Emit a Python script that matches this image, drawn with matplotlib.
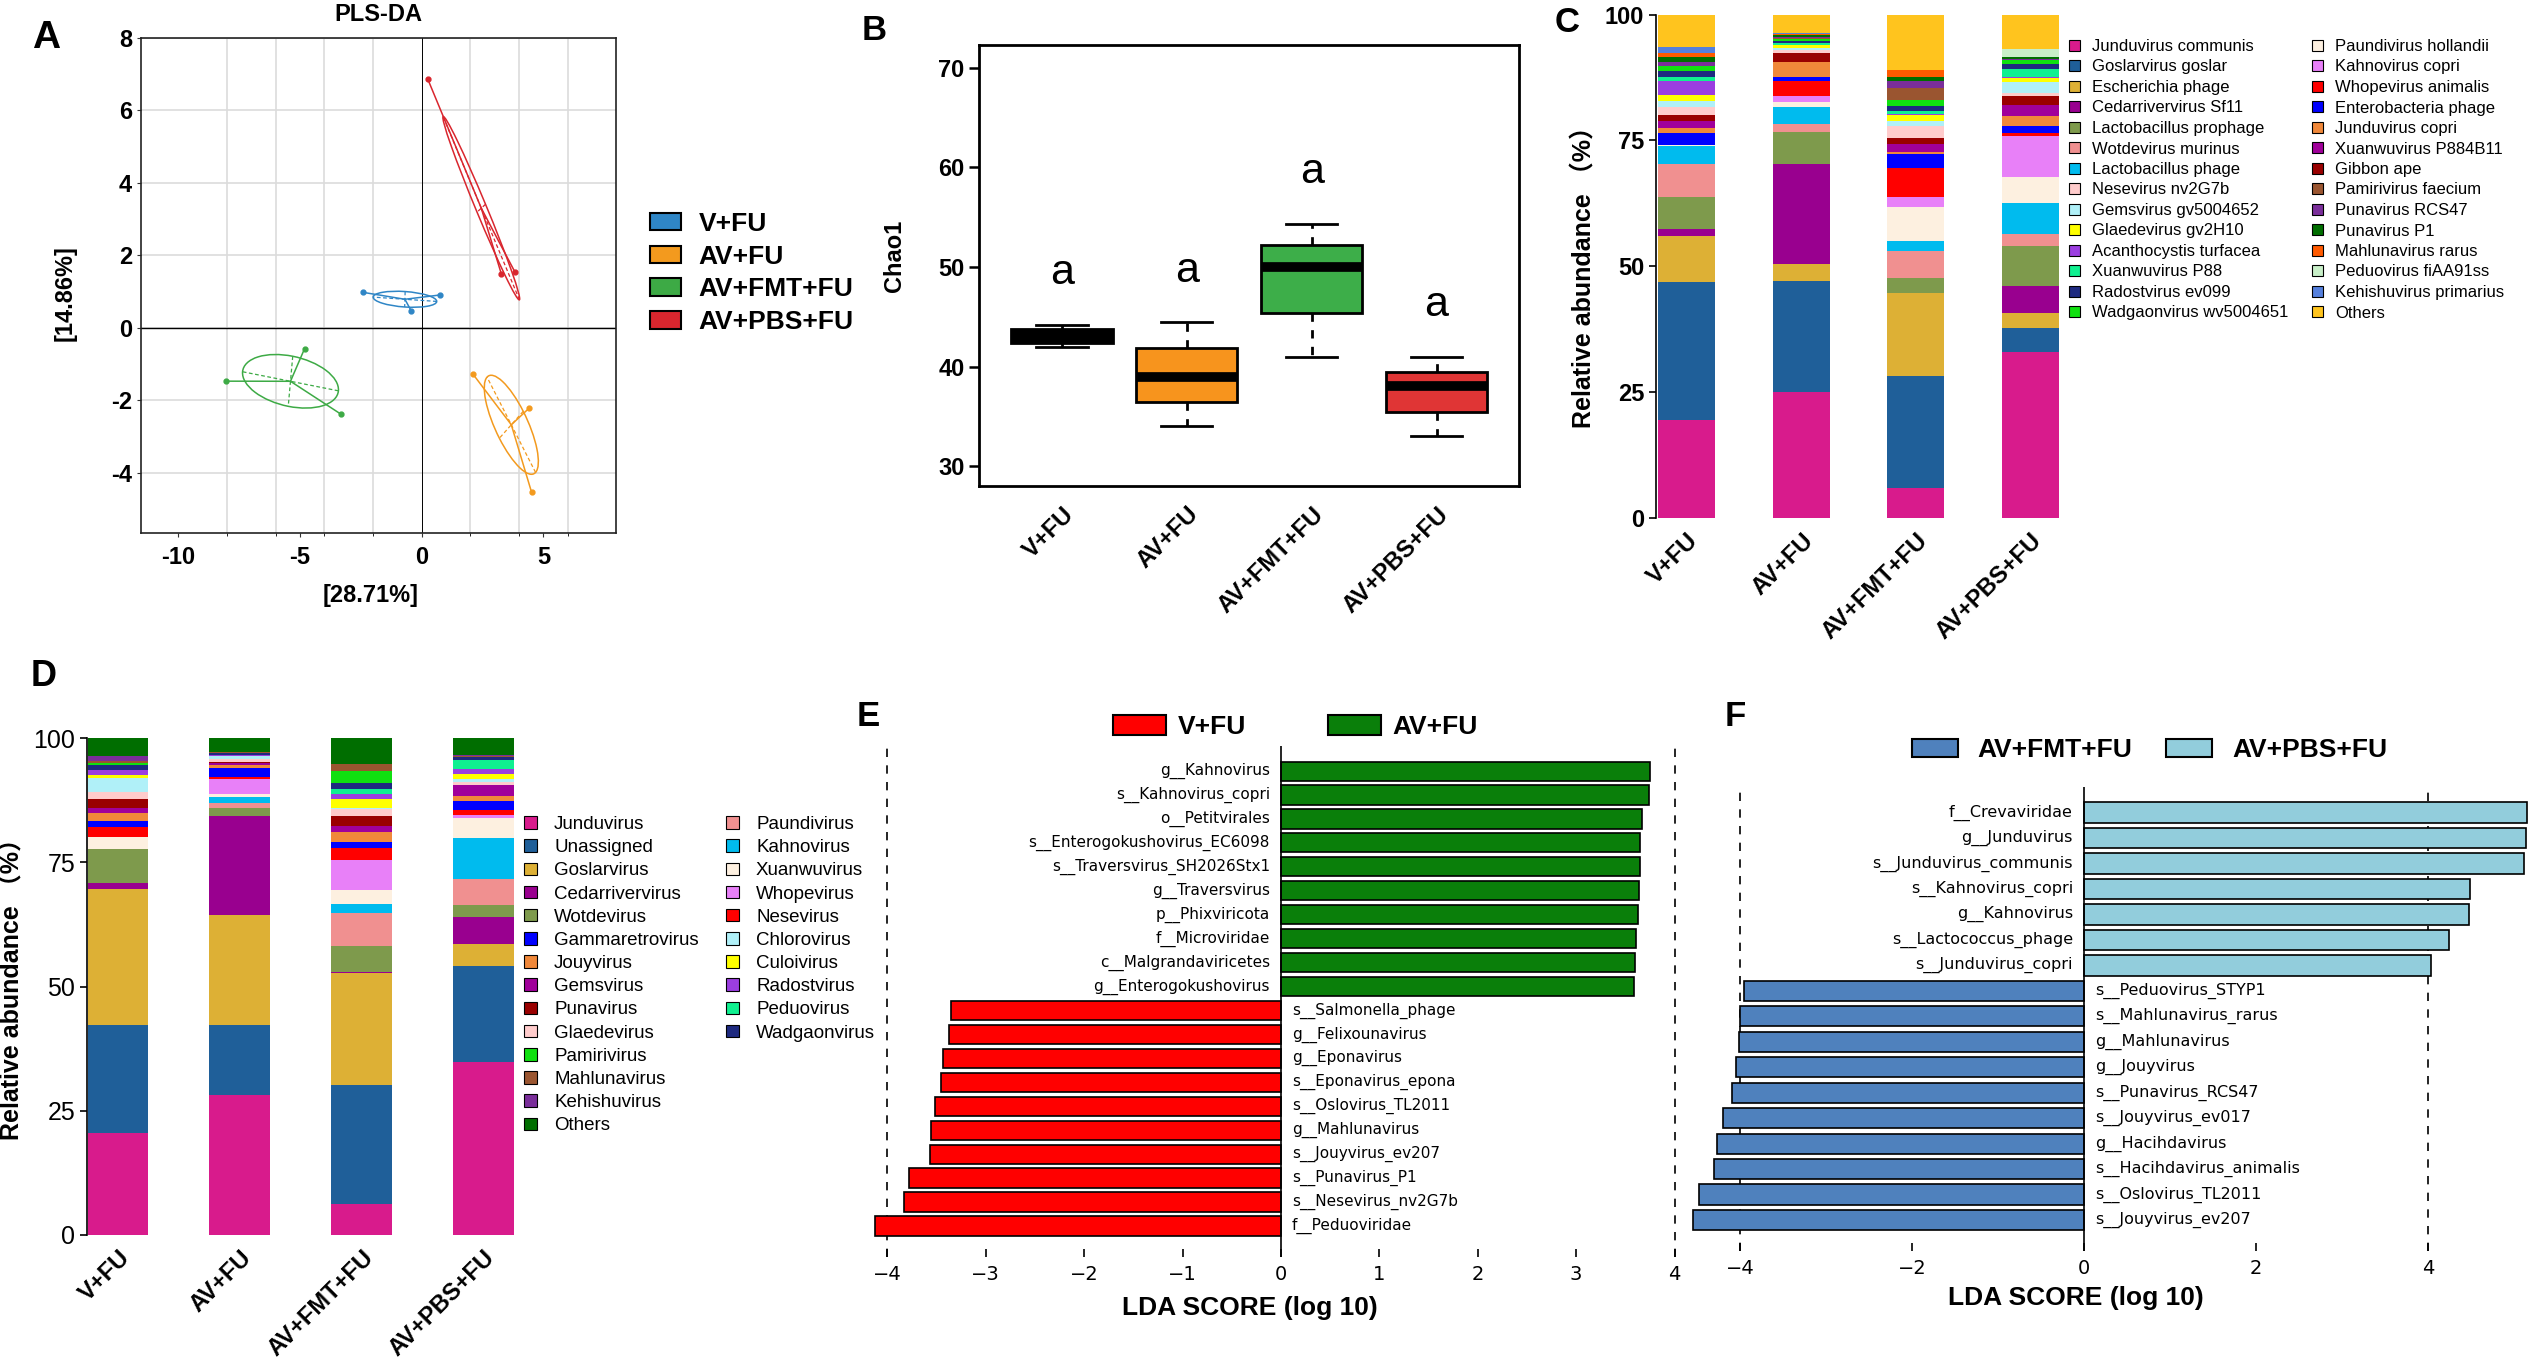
import numpy as np
import matplotlib
matplotlib.use("Agg")
import matplotlib.pyplot as plt
from matplotlib.patches import Patch, Ellipse

W, H = 2533, 1364
plt.rcParams['font.family'] = ['Liberation Sans', 'DejaVu Sans']
plt.rcParams['font.size'] = 14

def fx(px):
    return px / W

def fy(py):
    return 1 - py / H

# ---------------- data ----------------
groups = ["V+FU", "AV+FU", "AV+FMT+FU", "AV+PBS+FU"]

# Panel A: PLS-DA scores (3 samples per group)
pls_comp1 = [[-2.40, 0.77, -0.44], [2.11, 4.42, 4.51], [-8.04, -4.81, -3.32], [0.24, 3.27, 3.83]]
pls_comp2 = [[0.98, 0.91, 0.48], [-1.28, -2.21, -4.53], [-1.47, -0.57, -2.38], [6.88, 1.49, 1.54]]
pls_xlabel = "[28.71%]"
pls_ylabel = "[14.86%]"

# Panel B: Chao1 boxplot statistics
chao1_whislo = [41.95, 34.0, 41.0, 33.0]
chao1_q1 = [42.4, 36.4, 45.4, 35.4]
chao1_med = [43.0, 38.95, 50.0, 38.0]
chao1_q3 = [43.75, 41.85, 52.2, 39.5]
chao1_whishi = [44.15, 44.5, 54.3, 41.0]
chao1_letters = ["a", "a", "a", "a"]
chao1_letter_y = [48.3, 48.5, 58.4, 45.1]

# Panel C: species relative abundance (stack order bottom -> top)
c_species = ["Junduvirus communis", "Goslarvirus goslar", "Escherichia phage", "Cedarrivervirus Sf11",
             "Lactobacillus prophage", "Wotdevirus murinus", "Lactobacillus phage", "Paundivirus hollandii",
             "Kahnovirus copri", "Whopevirus animalis", "Enterobacteria phage", "Junduvirus copri",
             "Xuanwuvirus P884B11", "Gibbon ape", "Nesevirus nv2G7b", "Gemsvirus gv5004652",
             "Glaedevirus gv2H10", "Acanthocystis turfacea", "Xuanwuvirus P88", "Radostvirus ev099",
             "Wadgaonvirus wv5004651", "Pamirivirus faecium", "Punavirus RCS47", "Punavirus P1",
             "Mahlunavirus rarus", "Peduovirus fiAA91ss", "Kehishuvirus primarius", "Others"]
c_vfu = [19.45, 27.45, 9.2, 1.2, 6.4, 6.6, 3.5, 0.2, 0, 0, 2.4, 1.0, 1.5, 1.1, 1.7, 1.1, 1.2, 2.8,
         0.8, 1.2, 0.9, 0, 0.9, 1.0, 0.7, 0, 1.25, 6.35]
c_avfu = [25.1, 22.0, 3.3, 20.0, 6.3, 1.6, 3.3, 1.0, 1.2, 2.9, 0.8, 3.1, 0, 1.8, 0.5, 0.5, 0.5, 0.1,
          0.4, 0.4, 0.4, 0.1, 0.3, 0.4, 0.1, 0.1, 0.1, 3.8]
c_fmt = [5.9, 22.3, 16.4, 0.0, 3.1, 5.4, 2.0, 6.7, 1.9, 5.9, 2.6, 0.4, 1.7, 1.2, 2.3, 1.0, 1.2, 0.3,
         0.6, 1.0, 1.2, 2.3, 1.4, 0.8, 1.4, 0, 0, 11.0]
c_pbs = [32.9, 4.8, 3.05, 5.25, 8.1, 2.3, 6.1, 5.3, 8.1, 0.5, 1.5, 2.0, 2.1, 1.8, 0.7, 2.0, 0.8, 0.3,
         1.65, 0.85, 0.8, 0.1, 0.1, 0.4, 0, 1.7, 0, 6.9]
c_legend_col1 = ["Junduvirus communis", "Goslarvirus goslar", "Escherichia phage", "Cedarrivervirus Sf11",
                 "Lactobacillus prophage", "Wotdevirus murinus", "Lactobacillus phage", "Nesevirus nv2G7b",
                 "Gemsvirus gv5004652", "Glaedevirus gv2H10", "Acanthocystis turfacea", "Xuanwuvirus P88",
                 "Radostvirus ev099", "Wadgaonvirus wv5004651"]
c_legend_col2 = ["Paundivirus hollandii", "Kahnovirus copri", "Whopevirus animalis", "Enterobacteria phage",
                 "Junduvirus copri", "Xuanwuvirus P884B11", "Gibbon ape", "Pamirivirus faecium",
                 "Punavirus RCS47", "Punavirus P1", "Mahlunavirus rarus", "Peduovirus fiAA91ss",
                 "Kehishuvirus primarius", "Others"]

# Panel D: genus relative abundance (stack order bottom -> top)
d_genera = ["Junduvirus", "Unassigned", "Goslarvirus", "Cedarrivervirus", "Wotdevirus", "Paundivirus",
            "Kahnovirus", "Xuanwuvirus", "Whopevirus", "Nesevirus", "Gammaretrovirus", "Jouyvirus",
            "Gemsvirus", "Punavirus", "Glaedevirus", "Chlorovirus", "Culoivirus", "Radostvirus",
            "Peduovirus", "Wadgaonvirus", "Pamirivirus", "Mahlunavirus", "Kehishuvirus", "Others"]
d_vfu = [20.6, 21.6, 27.4, 1.2, 6.8, 0, 0, 2.4, 0, 2.1, 1.2, 1.6, 1.1, 1.8, 1.4, 2.7, 0.6, 1.1, 0, 0.9,
         0.4, 0.4, 1.1, 3.5]
d_avfu = [28.2, 14.0, 22.2, 20.0, 1.6, 0.9, 1.3, 0.6, 2.9, 0.4, 1.8, 0.6, 0.4, 0.3, 0.5, 0.6, 0.1, 0.1,
          0.1, 0.4, 0, 0.1, 0.1, 2.9]
d_fmt = [6.2, 24.0, 22.6, 0.1, 5.3, 6.5, 2.0, 2.7, 6.0, 2.4, 1.3, 2.0, 1.1, 2.2, 1.3, 0.2, 1.8, 1.0, 1.1,
         1.2, 2.4, 1.3, 0.1, 5.2]
d_pbs = [34.8, 19.3, 4.5, 5.4, 2.3, 5.4, 8.1, 4.2, 0.5, 1.0, 1.9, 1.0, 2.1, 0.1, 0.6, 0.5, 1.1, 1.0, 1.8,
         0.5, 0.1, 0.1, 0.3, 3.4]
d_legend_col1 = ["Junduvirus", "Unassigned", "Goslarvirus", "Cedarrivervirus", "Wotdevirus", "Gammaretrovirus",
                 "Jouyvirus", "Gemsvirus", "Punavirus", "Glaedevirus", "Pamirivirus", "Mahlunavirus",
                 "Kehishuvirus", "Others"]
d_legend_col2 = ["Paundivirus", "Kahnovirus", "Xuanwuvirus", "Whopevirus", "Nesevirus", "Chlorovirus",
                 "Culoivirus", "Radostvirus", "Peduovirus", "Wadgaonvirus"]

# Panel E: LEfSe V+FU vs AV+FU
e_taxa = ["g__Kahnovirus", "s__Kahnovirus_copri", "o__Petitvirales", "s__Enterogokushovirus_EC6098",
          "s__Traversvirus_SH2026Stx1", "g__Traversvirus", "p__Phixviricota", "f__Microviridae",
          "c__Malgrandaviricetes", "g__Enterogokushovirus", "s__Salmonella_phage", "g__Felixounavirus",
          "g__Eponavirus", "s__Eponavirus_epona", "s__Oslovirus_TL2011", "g__Mahlunavirus",
          "s__Jouyvirus_ev207", "s__Punavirus_P1", "s__Nesevirus_nv2G7b", "f__Peduoviridae"]
e_lda = [3.75, 3.735, 3.67, 3.65, 3.647, 3.636, 3.63, 3.61, 3.60, 3.59,
         -3.35, -3.37, -3.43, -3.45, -3.52, -3.56, -3.57, -3.78, -3.83, -4.13]

# Panel F: LEfSe AV+FMT+FU vs AV+PBS+FU
f_taxa = ["f__Crevaviridae", "g__Junduvirus", "s__Junduvirus_communis", "s__Kahnovirus_copri", "g__Kahnovirus",
          "s__Lactococcus_phage", "s__Junduvirus_copri", "s__Peduovirus_STYP1", "s__Mahlunavirus_rarus",
          "g__Mahlunavirus", "g__Jouyvirus", "s__Punavirus_RCS47", "s__Jouyvirus_ev017", "g__Hacihdavirus",
          "s__Hacihdavirus_animalis", "s__Oslovirus_TL2011", "s__Jouyvirus_ev207"]
f_lda = [5.15, 5.14, 5.12, 4.49, 4.48, 4.25, 4.03,
         -3.95, -4.00, -4.01, -4.05, -4.09, -4.20, -4.27, -4.30, -4.48, -4.55]

# ---------------- styles ----------------
pls_colors = ["#2F86C6", "#F39A1E", "#3DAA45", "#D9262E"]
box_colors = ["#000000", "#F7941D", "#3DAE49", "#E03535"]
c_colors = {
    "Junduvirus communis": "#D81B8C", "Goslarvirus goslar": "#1F5F99", "Escherichia phage": "#DDB035",
    "Cedarrivervirus Sf11": "#99008F", "Lactobacillus prophage": "#7E9A4C", "Wotdevirus murinus": "#F09090",
    "Lactobacillus phage": "#00BBEE", "Nesevirus nv2G7b": "#FFCCCC", "Gemsvirus gv5004652": "#B0F0F8",
    "Glaedevirus gv2H10": "#FFFF00", "Acanthocystis turfacea": "#9B3EE0", "Xuanwuvirus P88": "#10F090",
    "Radostvirus ev099": "#1E2A80", "Wadgaonvirus wv5004651": "#10E010", "Paundivirus hollandii": "#FDF0E0",
    "Kahnovirus copri": "#E880F8", "Whopevirus animalis": "#FF0000", "Enterobacteria phage": "#0000FF",
    "Junduvirus copri": "#F0883A", "Xuanwuvirus P884B11": "#A0009A", "Gibbon ape": "#990000",
    "Pamirivirus faecium": "#9A5530", "Punavirus RCS47": "#7A2E9A", "Punavirus P1": "#006E00",
    "Mahlunavirus rarus": "#FF5A00", "Peduovirus fiAA91ss": "#C8EFC8", "Kehishuvirus primarius": "#5580DD",
    "Others": "#FFC41E"}
d_colors = {
    "Junduvirus": "#D81B8C", "Unassigned": "#1F5F99", "Goslarvirus": "#DDB035", "Cedarrivervirus": "#99008F",
    "Wotdevirus": "#7E9A4C", "Gammaretrovirus": "#0000FF", "Jouyvirus": "#F0883A", "Gemsvirus": "#A0009A",
    "Punavirus": "#990000", "Glaedevirus": "#FFCCCC", "Pamirivirus": "#10E010", "Mahlunavirus": "#9A5530",
    "Kehishuvirus": "#7A2E9A", "Others": "#006E00", "Paundivirus": "#F09090", "Kahnovirus": "#00BBEE",
    "Xuanwuvirus": "#FDF0E0", "Whopevirus": "#E880F8", "Nesevirus": "#FF0000", "Chlorovirus": "#B0F0F8",
    "Culoivirus": "#FFFF00", "Radostvirus": "#9B3EE0", "Peduovirus": "#10F090", "Wadgaonvirus": "#1E2A80"}

fig = plt.figure(figsize=(W / 100, H / 100), dpi=100)

# ---------------- Panel A ----------------
axA = fig.add_axes([fx(141), fy(533), fx(616) - fx(141), fy(38) - fy(533)])
axA.set_xlim(-11.53, 7.98)
axA.set_ylim(-5.66, 8.0)
axA.set_xticks(np.arange(-10, 8, 2), minor=True)
axA.grid(which='minor', axis='x', color='#DCDCDC', lw=1.2)
axA.grid(which='major', axis='y', color='#DCDCDC', lw=1.2)
axA.set_axisbelow(True)
axA.axhline(0, color='black', lw=1.0, zorder=1)
axA.axvline(0, color='black', lw=0.7, zorder=1)
for gx, gy, col in zip(pls_comp1, pls_comp2, pls_colors):
    pts = np.column_stack([gx, gy])
    mu = pts.mean(axis=0)
    cov = np.cov(pts.T, bias=True)
    vals, vecs = np.linalg.eigh(cov)
    sd = np.sqrt(np.maximum(vals, 0))
    ang = np.degrees(np.arctan2(vecs[1, 1], vecs[0, 1]))
    axA.add_patch(Ellipse(mu, 2 * sd[1], 2 * sd[0], angle=ang, fill=False, ec=col, lw=1.1, zorder=3))
    for k in range(2):
        v = vecs[:, k] * sd[k]
        axA.plot([mu[0] - v[0], mu[0] + v[0]], [mu[1] - v[1], mu[1] + v[1]], color=col, lw=0.9,
                 ls=(0, (3, 2)), zorder=3)
    for px_, py_ in pts:
        axA.plot([mu[0], px_], [mu[1], py_], color=col, lw=1.1, zorder=3)
    axA.plot(gx, gy, 'o', color=col, ms=3.5, zorder=4)
axA.set_xticks([-10, -5, 0, 5], labels=["-10", "-5", "0", "5"], fontsize=17, fontweight='bold')
axA.set_yticks([-4, -2, 0, 2, 4, 6, 8], labels=["-4", "-2", "0", "2", "4", "6", "8"], fontsize=17,
               fontweight='bold')
axA.tick_params(axis='both', length=3, width=0.8, colors='#333333', labelcolor='black')
axA.tick_params(axis='x', pad=6)
for s in axA.spines.values():
    s.set_linewidth(1.2)
    s.set_color('#222222')
axA.set_title("PLS-DA", fontsize=17, fontweight='bold', pad=12)
axA.set_xlabel(pls_xlabel, fontsize=17, fontweight='bold')
axA.xaxis.set_label_coords(0.484, -0.103)
axA.set_ylabel(pls_ylabel, fontsize=17, fontweight='bold')
axA.yaxis.set_label_coords(-0.135, 0.485)

legA = [Patch(facecolor=c, edgecolor='black', linewidth=1.5, label=g) for g, c in zip(groups, pls_colors)]
fig.legend(handles=legA, loc='center left', bbox_to_anchor=(fx(650), fy(273)), frameon=False,
           prop={'weight': 'bold', 'size': 19}, handlelength=1.17, handleheight=0.64, handletextpad=0.68,
           labelspacing=0.33, borderpad=0, borderaxespad=0)

# ---------------- Panel B ----------------
axB = fig.add_axes([fx(979), fy(486), fx(1519) - fx(979), fy(45) - fy(486)])
stats = [dict(med=m, q1=a, q3=b, whislo=lo, whishi=hi, fliers=[])
         for m, a, b, lo, hi in zip(chao1_med, chao1_q1, chao1_q3, chao1_whislo, chao1_whishi)]
bp = axB.bxp(stats, positions=[1, 2, 3, 4], widths=0.81, capwidths=0.41, patch_artist=True, showfliers=False,
             boxprops=dict(edgecolor='black', linewidth=2.0),
             medianprops=dict(color='black', linewidth=7, solid_capstyle='butt'),
             whiskerprops=dict(color='black', linewidth=2.0, linestyle=(0, (3, 3))),
             capprops=dict(color='black', linewidth=2.0))
for patch, col in zip(bp['boxes'], box_colors):
    patch.set_facecolor(col)
for i, (t, yv) in enumerate(zip(chao1_letters, chao1_letter_y)):
    axB.text(i + 1, yv, t, ha='center', va='baseline', fontsize=31)
axB.set_xlim(0.335, 4.66)
axB.set_ylim(28.0, 72.3)
axB.set_yticks([30, 40, 50, 60, 70], labels=["30", "40", "50", "60", "70"], fontsize=17, fontweight='bold')
axB.set_xticks([1, 2, 3, 4], labels=groups, fontsize=17, fontweight='bold', rotation=45, ha='right',
               va='top', rotation_mode='anchor')
axB.tick_params(axis='y', length=7, width=1.8)
axB.tick_params(axis='x', length=0, pad=12)
for s in axB.spines.values():
    s.set_linewidth(2.0)
axB.set_ylabel("Chao1", fontsize=17, fontweight='bold')
axB.yaxis.set_label_coords(-0.1356, 0.522)

# ---------------- Panel C ----------------
axC = fig.add_axes([fx(1656), fy(518), 405 / W, fy(14.5) - fy(518)])
c_matrix = np.array([c_vfu, c_avfu, c_fmt, c_pbs])
xpos = np.arange(len(groups))
bottom = np.zeros(len(groups))
for j, name in enumerate(c_species):
    axC.bar(xpos, c_matrix[:, j], bottom=bottom, width=0.5, color=c_colors[name], edgecolor='none')
    bottom += c_matrix[:, j]
axC.set_xlim(-0.27, 3.27)
axC.set_ylim(0, 100)
for s in ['top', 'right', 'bottom']:
    axC.spines[s].set_visible(False)
axC.spines['left'].set_linewidth(1.2)
axC.set_yticks([0, 25, 50, 75, 100], labels=["0", "25", "50", "75", "100"], fontsize=17, fontweight='bold')
axC.tick_params(axis='y', length=5, width=1.2)
axC.set_xticks(xpos, labels=groups, fontsize=17, fontweight='bold', rotation=45, ha='right', va='top',
               rotation_mode='anchor')
axC.tick_params(axis='x', length=0, pad=8)
axC.set_ylabel("Relative abundance \uff08%\uff09", fontsize=18, fontweight='bold',
               family=['Liberation Sans', 'Noto Sans CJK SC'])
axC.yaxis.set_label_coords(-0.146, 0.49)


def column_legend(names, colors, x_px, y_top_px, fs, hl, hh, tp, ls):
    hs = [Patch(facecolor=colors[n], edgecolor='black', linewidth=0.8, label=n) for n in names]
    fig.legend(handles=hs, loc='upper left', bbox_to_anchor=(fx(x_px), fy(y_top_px)), frameon=False,
               fontsize=fs, handlelength=hl, handleheight=hh, handletextpad=tp, labelspacing=ls,
               borderpad=0, borderaxespad=0)


column_legend(c_legend_col1, c_colors, 2069, 39, 12, 0.65, 0.65, 0.75, 0.33)
column_legend(c_legend_col2, c_colors, 2312, 39, 12, 0.65, 0.65, 0.75, 0.33)

# ---------------- Panel D ----------------
axD = fig.add_axes([fx(87), fy(1235), 428 / W, fy(738) - fy(1235)])
d_matrix = np.array([d_vfu, d_avfu, d_fmt, d_pbs])
bottom = np.zeros(len(groups))
for j, name in enumerate(d_genera):
    axD.bar(xpos, d_matrix[:, j], bottom=bottom, width=0.5, color=d_colors[name], edgecolor='none')
    bottom += d_matrix[:, j]
axD.set_xlim(-0.255, 3.26)
axD.set_ylim(0, 100)
for s in ['top', 'right', 'bottom']:
    axD.spines[s].set_visible(False)
axD.spines['left'].set_linewidth(1.2)
axD.set_yticks([0, 25, 50, 75, 100], labels=["0", "25", "50", "75", "100"], fontsize=18)
axD.tick_params(axis='y', length=5, width=1.2)
axD.set_xticks(xpos, labels=groups, fontsize=17, fontweight='bold', rotation=45, ha='right', va='top',
               rotation_mode='anchor')
axD.tick_params(axis='x', length=0, pad=8)
axD.set_ylabel("Relative abundance \uff08%\uff09", fontsize=18, fontweight='bold',
               family=['Liberation Sans', 'Noto Sans CJK SC'])
axD.yaxis.set_label_coords(-0.145, 0.507)

column_legend(d_legend_col1, d_colors, 524, 816, 13.5, 0.7, 0.65, 0.9, 0.33)
column_legend(d_legend_col2, d_colors, 726, 816, 13.5, 0.7, 0.65, 0.9, 0.33)


# ---------------- LEfSe panels ----------------
def lefse(ax, taxa, lda, pos_col, neg_col, xlim, ylim, xticks, fs_lab):
    n = len(taxa)
    ypos = np.arange(n)[::-1]
    cols = [pos_col if v > 0 else neg_col for v in lda]
    ax.barh(ypos, lda, height=0.8, color=cols, edgecolor='black', linewidth=1.2, zorder=2)
    for yv, t, v in zip(ypos, taxa, lda):
        if v > 0:
            ax.annotate(t, xy=(0, yv), xytext=(-8, 0), textcoords='offset points', ha='right', va='center',
                        fontsize=fs_lab, family='DejaVu Sans')
        else:
            ax.annotate(t, xy=(0, yv), xytext=(8, 0), textcoords='offset points', ha='left', va='center',
                        fontsize=fs_lab, family='DejaVu Sans')
    ax.axvline(0, color='black', lw=1.2, zorder=3)
    ax.axvline(-4, color='black', lw=1.2, ls=(0, (5, 5)), zorder=1)
    ax.axvline(4, color='black', lw=1.2, ls=(0, (5, 5)), zorder=1)
    ax.set_xlim(*xlim)
    ax.set_ylim(*ylim)
    ax.set_yticks([])
    labs = [("\u2212%d" % -t) if t < 0 else "%d" % t for t in xticks]
    ax.set_xticks(xticks, labels=labs, fontsize=14, family='DejaVu Sans')
    ax.tick_params(axis='x', direction='in', length=6, width=1.2, pad=6)
    for s in ax.spines.values():
        s.set_visible(False)
    ax.set_xlabel("LDA SCORE (log 10)", fontsize=19, fontweight='bold')


axE = fig.add_axes([fx(872.6), fy(1256.6), (1679.5 - 872.6) / W, fy(745.7) - fy(1256.6)])
lefse(axE, e_taxa, e_lda, '#0A7F0A', '#FF0000', (-4.15, 4.05), (-1.28, 20.06), [-4, -3, -2, -1, 0, 1, 2, 3, 4], 11)
axE.xaxis.set_label_coords(0.468, -0.078)
legE = [Patch(facecolor='#FF0000', edgecolor='black', linewidth=1.5, label="V+FU"),
        Patch(facecolor='#0A7F0A', edgecolor='black', linewidth=1.5, label="AV+FU")]
fig.legend(handles=legE, loc='center left', bbox_to_anchor=(fx(1113), fy(727)), ncol=2, frameon=False,
           prop={'weight': 'bold', 'size': 19}, handlelength=2.0, handleheight=0.76, handletextpad=0.45,
           columnspacing=3.1, borderpad=0, borderaxespad=0)

axF = fig.add_axes([fx(1692), fy(1250.7), (2528.6 - 1692) / W, fy(786.5) - fy(1250.7)])
lefse(axF, f_taxa, f_lda, '#92CDDC', '#4F81BD', (-4.56, 5.17), (-1.2, 17.02), [-4, -2, 0, 2, 4], 11.5)
axF.xaxis.set_label_coords(0.459, -0.076)
legF = [Patch(facecolor='#4F81BD', edgecolor='black', linewidth=1.5, label="AV+FMT+FU"),
        Patch(facecolor='#92CDDC', edgecolor='black', linewidth=1.5, label="AV+PBS+FU")]
fig.legend(handles=legF, loc='center left', bbox_to_anchor=(fx(1911.6), fy(750.4)), ncol=2, frameon=False,
           prop={'weight': 'bold', 'size': 19}, handlelength=1.74, handleheight=0.64, handletextpad=0.76,
           columnspacing=1.29, borderpad=0, borderaxespad=0)

# ---------------- panel letters ----------------
for lab, x_, y_, fs in [("A", 45.6, 38, 28), ("B", 874, 31, 25), ("C", 1567, 22, 25),
                        ("D", 43.5, 677, 26), ("E", 868, 716, 25), ("F", 1735, 716, 25)]:
    fig.text(fx(x_), fy(y_), lab, fontsize=fs, fontweight='bold', ha='center', va='center')

fig.savefig("out.png", dpi=100)
